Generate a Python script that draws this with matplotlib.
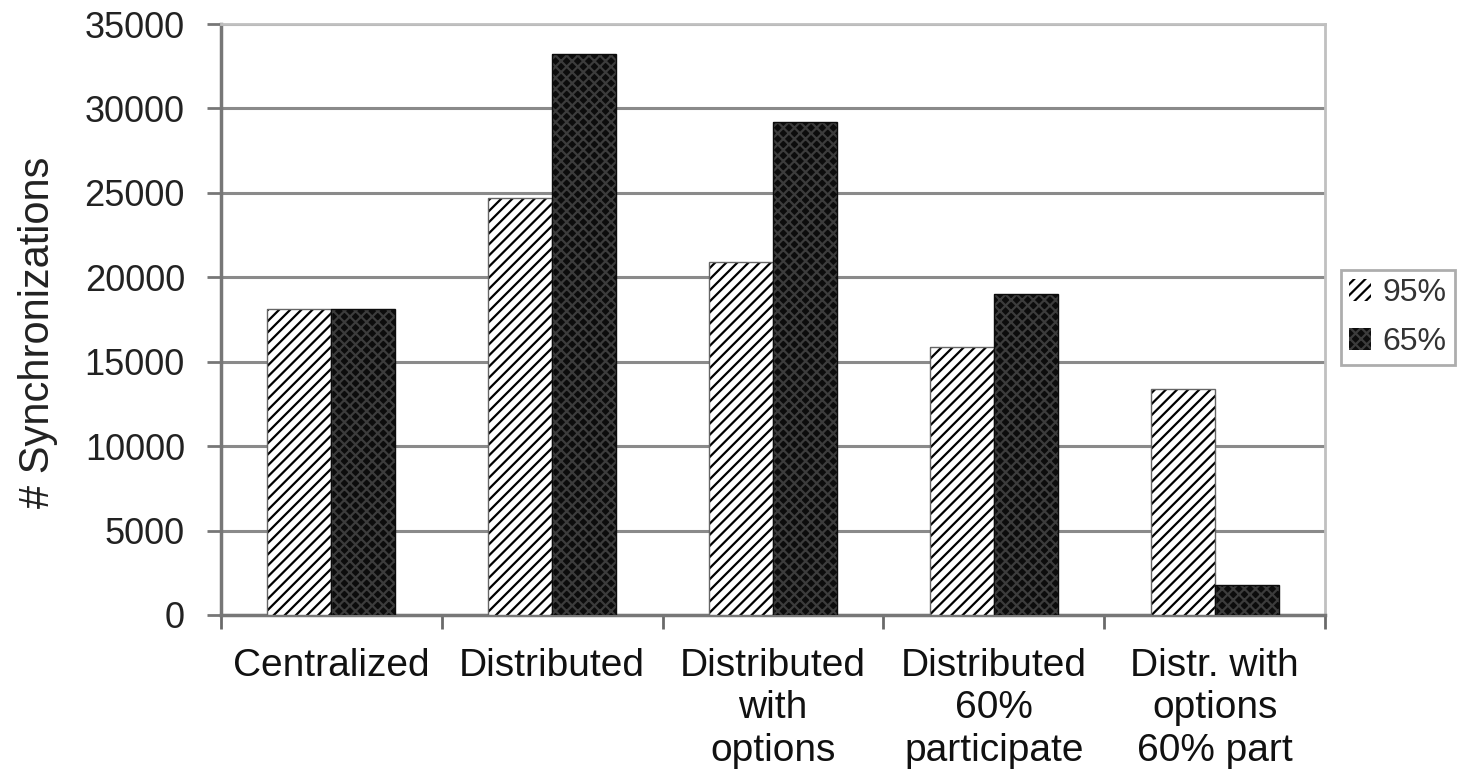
import matplotlib.pyplot as plt
import numpy as np

plt.rcParams['font.family'] = ['Liberation Sans', 'DejaVu Sans']
plt.rcParams['hatch.linewidth'] = 1.6

categories = ['Centralized', 'Distributed', 'Distributed\nwith\noptions',
              'Distributed\n60%\nparticipate', 'Distr. with\noptions\n60% part']
series_names = ['95%', '65%']
sync_95 = [18100, 24700, 20900, 15900, 13400]
sync_65 = [18100, 33200, 29200, 19000, 1800]
y_ticks = [0, 5000, 10000, 15000, 20000, 25000, 30000, 35000]

fig = plt.figure(figsize=(14.62, 7.79), dpi=100)
ax = fig.add_axes([221 / 1462, 1 - 615 / 779, (1325 - 221) / 1462, (615 - 24) / 779])

x = np.arange(len(categories))
w = 0.29

# hatch takes the edge colour, so outline width is zero and a separate outline is drawn
ax.bar(x - w / 2, sync_95, w, color='white', edgecolor='black', hatch='///',
       linewidth=0, label=series_names[0], zorder=3)
ax.bar(x + w / 2, sync_65, w, color='#0c0c0c', edgecolor='#3c3c3c', hatch='xxx',
       linewidth=0, label=series_names[1], zorder=3)
ax.bar(x - w / 2, sync_95, w, fill=False, edgecolor='#666666', linewidth=1, zorder=4)
ax.bar(x + w / 2, sync_65, w, fill=False, edgecolor='#0c0c0c', linewidth=1, zorder=4)

ax.set_xlim(-0.5, len(categories) - 0.5)
ax.set_ylim(0, 35000)
ax.set_yticks(y_ticks)
ax.set_yticklabels([str(v) for v in y_ticks])
ax.yaxis.grid(True, color='#8a8a8a', linewidth=2.2, zorder=0)
ax.set_axisbelow(True)

ax.set_xticks(x)
ax.set_xticklabels(categories, linespacing=1.22)
ax.set_xticks(np.arange(len(categories) + 1) - 0.5, minor=True)
ax.tick_params(axis='x', which='major', length=0, pad=24, labelsize=28,
               labelcolor='#111111')
ax.tick_params(axis='x', which='minor', length=10, width=2, color='#6a6a6a', direction='out')
ax.tick_params(axis='y', length=10, width=2, color='#777777', pad=16, labelsize=26,
               labelcolor='#222222')

for side in ['top', 'right']:
    ax.spines[side].set_color('#c0c0c0')
    ax.spines[side].set_linewidth(2)
for side in ['left', 'bottom']:
    ax.spines[side].set_color('#777777')
    ax.spines[side].set_linewidth(2.5)

ax.set_ylabel('# Synchronizations', fontsize=30, color='#222222')
ax.yaxis.set_label_coords(-0.148, 0.478)

leg = ax.legend(loc='upper left', bbox_to_anchor=(1341 / 1462, 1 - 270 / 779),
                bbox_transform=fig.transFigure, fontsize=23, frameon=True,
                fancybox=False, edgecolor='#999999', handlelength=0.7,
                handleheight=0.7, handletextpad=0.35, labelspacing=0.6,
                borderpad=0.25, borderaxespad=0)
leg.get_frame().set_linewidth(2)
for t in leg.get_texts():
    t.set_color('#333333')

fig.savefig('out.png', dpi=100, facecolor='white')
